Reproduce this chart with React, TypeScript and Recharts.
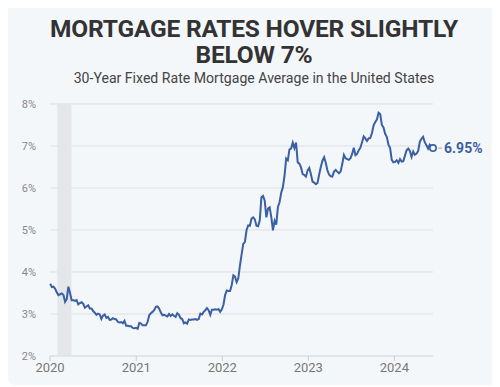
import React from "react";
import { LineChart, Line, XAxis, YAxis, CartesianGrid, ReferenceArea } from "recharts";

// Freddie Mac PMMS weekly 30-year fixed averages (percent)
const rates2020 = [
  3.72, 3.64, 3.65, 3.6, 3.51, 3.45, 3.47, 3.49, 3.45, 3.29, 3.36, 3.65, 3.5, 3.33, 3.33, 3.31, 3.33, 3.23,
  3.26, 3.28, 3.24, 3.15, 3.18, 3.21, 3.13, 3.13, 3.07, 3.03, 2.98, 3.01, 2.99, 2.88, 2.96, 2.99, 2.91, 2.93,
  2.86, 2.87, 2.9, 2.88, 2.87, 2.81, 2.8, 2.81, 2.78, 2.84, 2.72, 2.72, 2.71, 2.71, 2.67, 2.66, 2.67,
];
const rates2021 = [
  2.65, 2.79, 2.77, 2.73, 2.73, 2.73, 2.81, 2.97, 3.02, 3.05, 3.09, 3.17, 3.18, 3.13, 3.04, 2.97, 2.98, 2.96,
  2.94, 3.0, 2.95, 2.99, 2.96, 2.93, 3.02, 2.98, 2.9, 2.88, 2.78, 2.8, 2.77, 2.87, 2.86, 2.87, 2.87, 2.88,
  2.86, 2.88, 3.01, 2.99, 3.05, 3.09, 3.14, 3.09, 2.98, 3.1, 3.1, 3.11, 3.1, 3.12, 3.05, 3.11,
];
const rates2022 = [
  3.22, 3.45, 3.56, 3.55, 3.55, 3.69, 3.92, 3.89, 3.76, 3.85, 4.16, 4.42, 4.67, 4.72, 5.0, 5.11, 5.1, 5.27,
  5.3, 5.25, 5.1, 5.09, 5.23, 5.78, 5.81, 5.7, 5.3, 5.51, 5.54, 5.3, 4.99, 5.22, 5.13, 5.55, 5.66, 5.89,
  6.02, 6.29, 6.7, 6.66, 6.92, 6.94, 7.08, 6.95, 7.08, 6.61, 6.58, 6.49, 6.33, 6.31, 6.27, 6.42,
];
const rates2023 = [
  6.48, 6.33, 6.15, 6.13, 6.09, 6.12, 6.32, 6.5, 6.65, 6.73, 6.6, 6.42, 6.32, 6.28, 6.27, 6.39, 6.43, 6.39,
  6.35, 6.39, 6.57, 6.79, 6.71, 6.69, 6.67, 6.71, 6.81, 6.96, 6.78, 6.81, 6.9, 6.96, 7.09, 7.23, 7.18, 7.12,
  7.18, 7.19, 7.31, 7.49, 7.57, 7.63, 7.79, 7.76, 7.5, 7.44, 7.29, 7.22, 7.03, 6.95, 6.67, 6.61,
];
const rates2024 = [
  6.62, 6.66, 6.6, 6.69, 6.63, 6.64, 6.77, 6.9, 6.94, 6.88, 6.74, 6.87, 6.79, 6.82, 6.88, 7.1, 7.17, 7.22,
  7.09, 7.02, 6.94, 7.03, 6.99, 6.95,
];
// first weekly release of each year
const firstWeeks = ["2020-01-02", "2021-01-07", "2022-01-06", "2023-01-05", "2024-01-04"];
const yearTicks = ["2020-01-01", "2021-01-01", "2022-01-01", "2023-01-01", "2024-01-01"];
const rateTicks = [2, 3, 4, 5, 6, 7, 8];
const recession = ["2020-02-01", "2020-04-01"];

const DAY = 86400000;
const t = (s: string) => Date.parse(s + "T00:00:00Z");

const data = [rates2020, rates2021, rates2022, rates2023, rates2024].flatMap((yr, y) =>
  yr.map((rate, i) => ({ date: t(firstWeeks[y]) + i * 7 * DAY, rate }))
);
const lastIdx = data.length - 1;

const BLUE = "#3b5fa3";

const EndDot = (props: any) => {
  const { cx, cy, index } = props;
  if (index !== lastIdx) return null;
  return (
    <g key="end">
      <line x1={cx + 5} x2={cx + 9} y1={cy} y2={cy} stroke="#aaa" strokeWidth={1} />
      <circle cx={cx} cy={cy} r={3.2} fill="#f4f7fa" stroke={BLUE} strokeWidth={1.6} />
      <text x={cx + 11} y={cy + 5} fill={BLUE} fontSize={14} fontWeight={700} fontFamily="Roboto, sans-serif">
        {data[lastIdx].rate.toFixed(2)}%
      </text>
    </g>
  );
};

export default function App() {
  return (
    <div
      style={{
        position: "relative",
        marginTop: -8,
        width: 492,
        height: 385,
        background: "#f4f7fa",
        borderRadius: 8,
        fontFamily: "Roboto, sans-serif",
      }}
    >
      <div
        style={{
          position: "absolute",
          top: 16,
          left: 0,
          width: 492,
          textAlign: "center",
          fontSize: 24.5,
          fontWeight: 700,
          lineHeight: "26px",
          color: "#333",
          letterSpacing: -0.2,
        }}
      >
        MORTGAGE RATES HOVER SLIGHTLY
        <br />
        BELOW 7%
      </div>
      <div
        style={{
          position: "absolute",
          top: 70,
          left: 0,
          width: 492,
          textAlign: "center",
          fontSize: 14.1,
          color: "#444",
        }}
      >
        30-Year Fixed Rate Mortgage Average in the United States
      </div>
      <div style={{ position: "absolute", top: 90, left: 0 }}>
        <LineChart width={492} height={296} data={data} margin={{ top: 14, right: 67, bottom: 0, left: 8 }}>
          <ReferenceArea x1={t(recession[0])} x2={t(recession[1])} fill="#e4e6e9" fillOpacity={1} stroke="none" />
          <CartesianGrid vertical={false} stroke="#dcdfe3" />
          <XAxis
            dataKey="date"
            type="number"
            scale="time"
            domain={[t("2020-01-01"), data[lastIdx].date]}
            ticks={yearTicks.map(t)}
            tickFormatter={(v) => String(new Date(v).getUTCFullYear())}
            axisLine={{ stroke: "#dcdfe3" }}
            tickLine={{ stroke: "#ccc" }}
            tickSize={5}
            tick={{ fontSize: 13, fill: "#777" }}
            height={30}
          />
          <YAxis
            domain={[2, 8]}
            ticks={rateTicks}
            tickFormatter={(v) => `${v}%`}
            axisLine={false}
            tickLine={false}
            tickMargin={8}
            width={34}
            tick={{ fontSize: 11, fill: "#888" }}
          />
          <Line
            type="linear"
            dataKey="rate"
            stroke={BLUE}
            strokeWidth={2}
            dot={EndDot}
            activeDot={false}
            isAnimationActive={false}
          />
        </LineChart>
      </div>
    </div>
  );
}
